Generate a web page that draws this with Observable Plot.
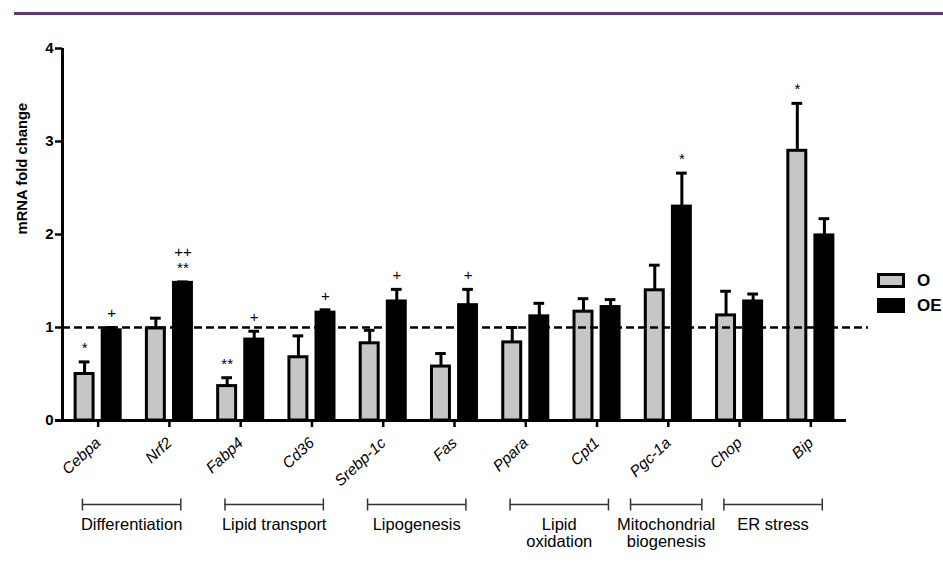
<!DOCTYPE html>
<html><head><meta charset="utf-8">
<script src="https://cdn.jsdelivr.net/npm/d3@7"></script>
<script src="https://cdn.jsdelivr.net/npm/@observablehq/plot@0.6"></script>
<style>
html,body{margin:0;padding:0;background:#fff;overflow:hidden;}
#wrap{position:relative;width:943px;height:577px;font-family:"Liberation Sans",Arial,sans-serif;overflow:hidden;}
#topline{position:absolute;left:14px;right:0;top:12px;height:3px;background:#5e3a70;}
.lbox{position:absolute;left:877px;width:28px;height:15px;box-sizing:border-box;border:3px solid #000;}
.ltxt{position:absolute;left:917px;font-weight:bold;font-size:17px;line-height:20px;white-space:nowrap;color:#000;}
#chart{position:absolute;left:0;top:0;}
</style>
</head><body>
<div id="wrap">
  <div id="chart"></div>
  <div id="topline"></div>
  <div class="lbox" style="top:273px;background:#c6c6c6;"></div>
  <div class="ltxt" style="top:271px;">O</div>
  <div class="lbox" style="top:298px;background:#000;"></div>
  <div class="ltxt" style="top:296px;">OE</div>
</div>
<script>
const genes = ["Cebpa","Nrf2","Fabp4","Cd36","Srebp-1c","Fas","Ppara","Cpt1","Pgc-1a","Chop","Bip"];
const seriesNames = ["O","OE"];
const oMean  = [0.50,0.99,0.37,0.68,0.83,0.58,0.84,1.17,1.40,1.13,2.90];
const oErr   = [0.13,0.11,0.09,0.23,0.14,0.14,0.16,0.14,0.27,0.26,0.51];
const oeMean = [0.97,1.48,0.87,1.16,1.28,1.24,1.12,1.22,2.30,1.28,1.99];
const oeErr  = [0.03,0.01,0.09,0.03,0.13,0.17,0.14,0.08,0.36,0.08,0.18];
const oSig   = ["*","","**","","","","","","","","*"];
const oeSig  = ["+","++\n**","+","+","+","+","","","*","",""];
const groupNames = ["Differentiation","Lipid transport","Lipogenesis","Lipid\noxidation","Mitochondrial\nbiogenesis","ER stress"];
const groupStart = [0,2,4,6,8,9];
const groupEnd   = [1,3,5,7,8,10];
const yTicks = [0,1,2,3,4];

const OFF = 0.19, HALF = 0.126, CAP = 0.075;
const rows = genes.flatMap((g,i)=>[
  {i, gene:g, series:"O",  mean:oMean[i],  err:oErr[i],  sig:oSig[i],  off:-OFF},
  {i, gene:g, series:"OE", mean:oeMean[i], err:oeErr[i], sig:oeSig[i], off: OFF}
]);
const groups = groupNames.map((name,k)=>{
  const s = groupStart[k], e = groupEnd[k];
  const pad = s===e ? 0.5 : 0.19;
  return {name, x1: s-pad-0.03, x2: e+pad-0.03, xc: (s+e)/2 - 0.03};
});
const groupEnds = groups.flatMap(g=>[{x:g.x1},{x:g.x2}]);
const vbar = {draw(ctx, size){ const r = Math.sqrt(size/Math.PI); ctx.moveTo(0,-r); ctx.lineTo(0,r); }};

const plot = Plot.plot({
  width: 943, height: 577,
  marginLeft: 62, marginRight: 97, marginTop: 48, marginBottom: 157,
  style: {fontFamily: '"Liberation Sans", Arial, sans-serif', fontSize: "14px", color: "#000", background: "#fff", overflow: "visible"},
  x: {type: "linear", domain: [-0.5, genes.length - 0.5]},
  y: {domain: [0, 4]},
  color: {domain: seriesNames, range: ["#c6c6c6", "#000"]},
  marks: [
    Plot.rectY(rows, {x1: d=>d.i+d.off-HALF, x2: d=>d.i+d.off+HALF, y1: 0, y2: "mean", fill: "series", stroke: "#000", strokeWidth: 3}),
    Plot.ruleX(rows, {x: d=>d.i+d.off, y1: "mean", y2: d=>d.mean+d.err, stroke: "#000", strokeWidth: 3}),
    Plot.ruleY(rows, {y: d=>d.mean+d.err, x1: d=>d.i+d.off-CAP, x2: d=>d.i+d.off+CAP, stroke: "#000", strokeWidth: 3}),
    Plot.ruleY([1], {stroke: "#000", strokeWidth: 2.5, strokeDasharray: "8,4", insetRight: -22}),
    Plot.text(rows.filter(d=>d.sig), {x: d=>d.i+d.off, y: d=>d.mean+d.err, text: "sig", lineAnchor: "bottom", dy: -9, rotate: 0.01, fontSize: 15, lineHeight: 1.05, fill: "#000"}),
    Plot.ruleY([0], {stroke: "#000", strokeWidth: 3, insetLeft: -7}),
    Plot.ruleX([-0.5], {stroke: "#000", strokeWidth: 3}),
    Plot.axisY({ticks: yTicks, tickFormat: d3.format("d"), tickSize: 7, strokeWidth: 2.5, tickPadding: 2, fontSize: 15, fontWeight: "bold", label: null}),
    Plot.axisX({ticks: d3.range(genes.length), tickFormat: i=>genes[i], tickRotate: -43, tickSize: 7, strokeWidth: 2.5, tickPadding: 13, fontSize: 15.5, fontStyle: "italic", label: null}),
    Plot.text(["mRNA fold change"], {frameAnchor: "left", rotate: -90, dx: -40, fontSize: 14.8, fontWeight: "bold", fill: "#000"}),
    Plot.ruleY(groups, {x1: "x1", x2: "x2", y: ()=>0, dy: 84, stroke: "#333", strokeWidth: 1.5}),
    Plot.dot(groupEnds, {x: "x", y: ()=>0, dy: 84, r: 6, symbol: vbar, stroke: "#333", strokeWidth: 1.5, fill: "none"}),
    Plot.text(groups, {x: "xc", y: ()=>0, dy: 97, text: "name", lineAnchor: "top", fontSize: 16.5, lineHeight: 1.05, fill: "#000"})
  ]
});
document.getElementById("chart").appendChild(plot);
</script>
</body></html>
